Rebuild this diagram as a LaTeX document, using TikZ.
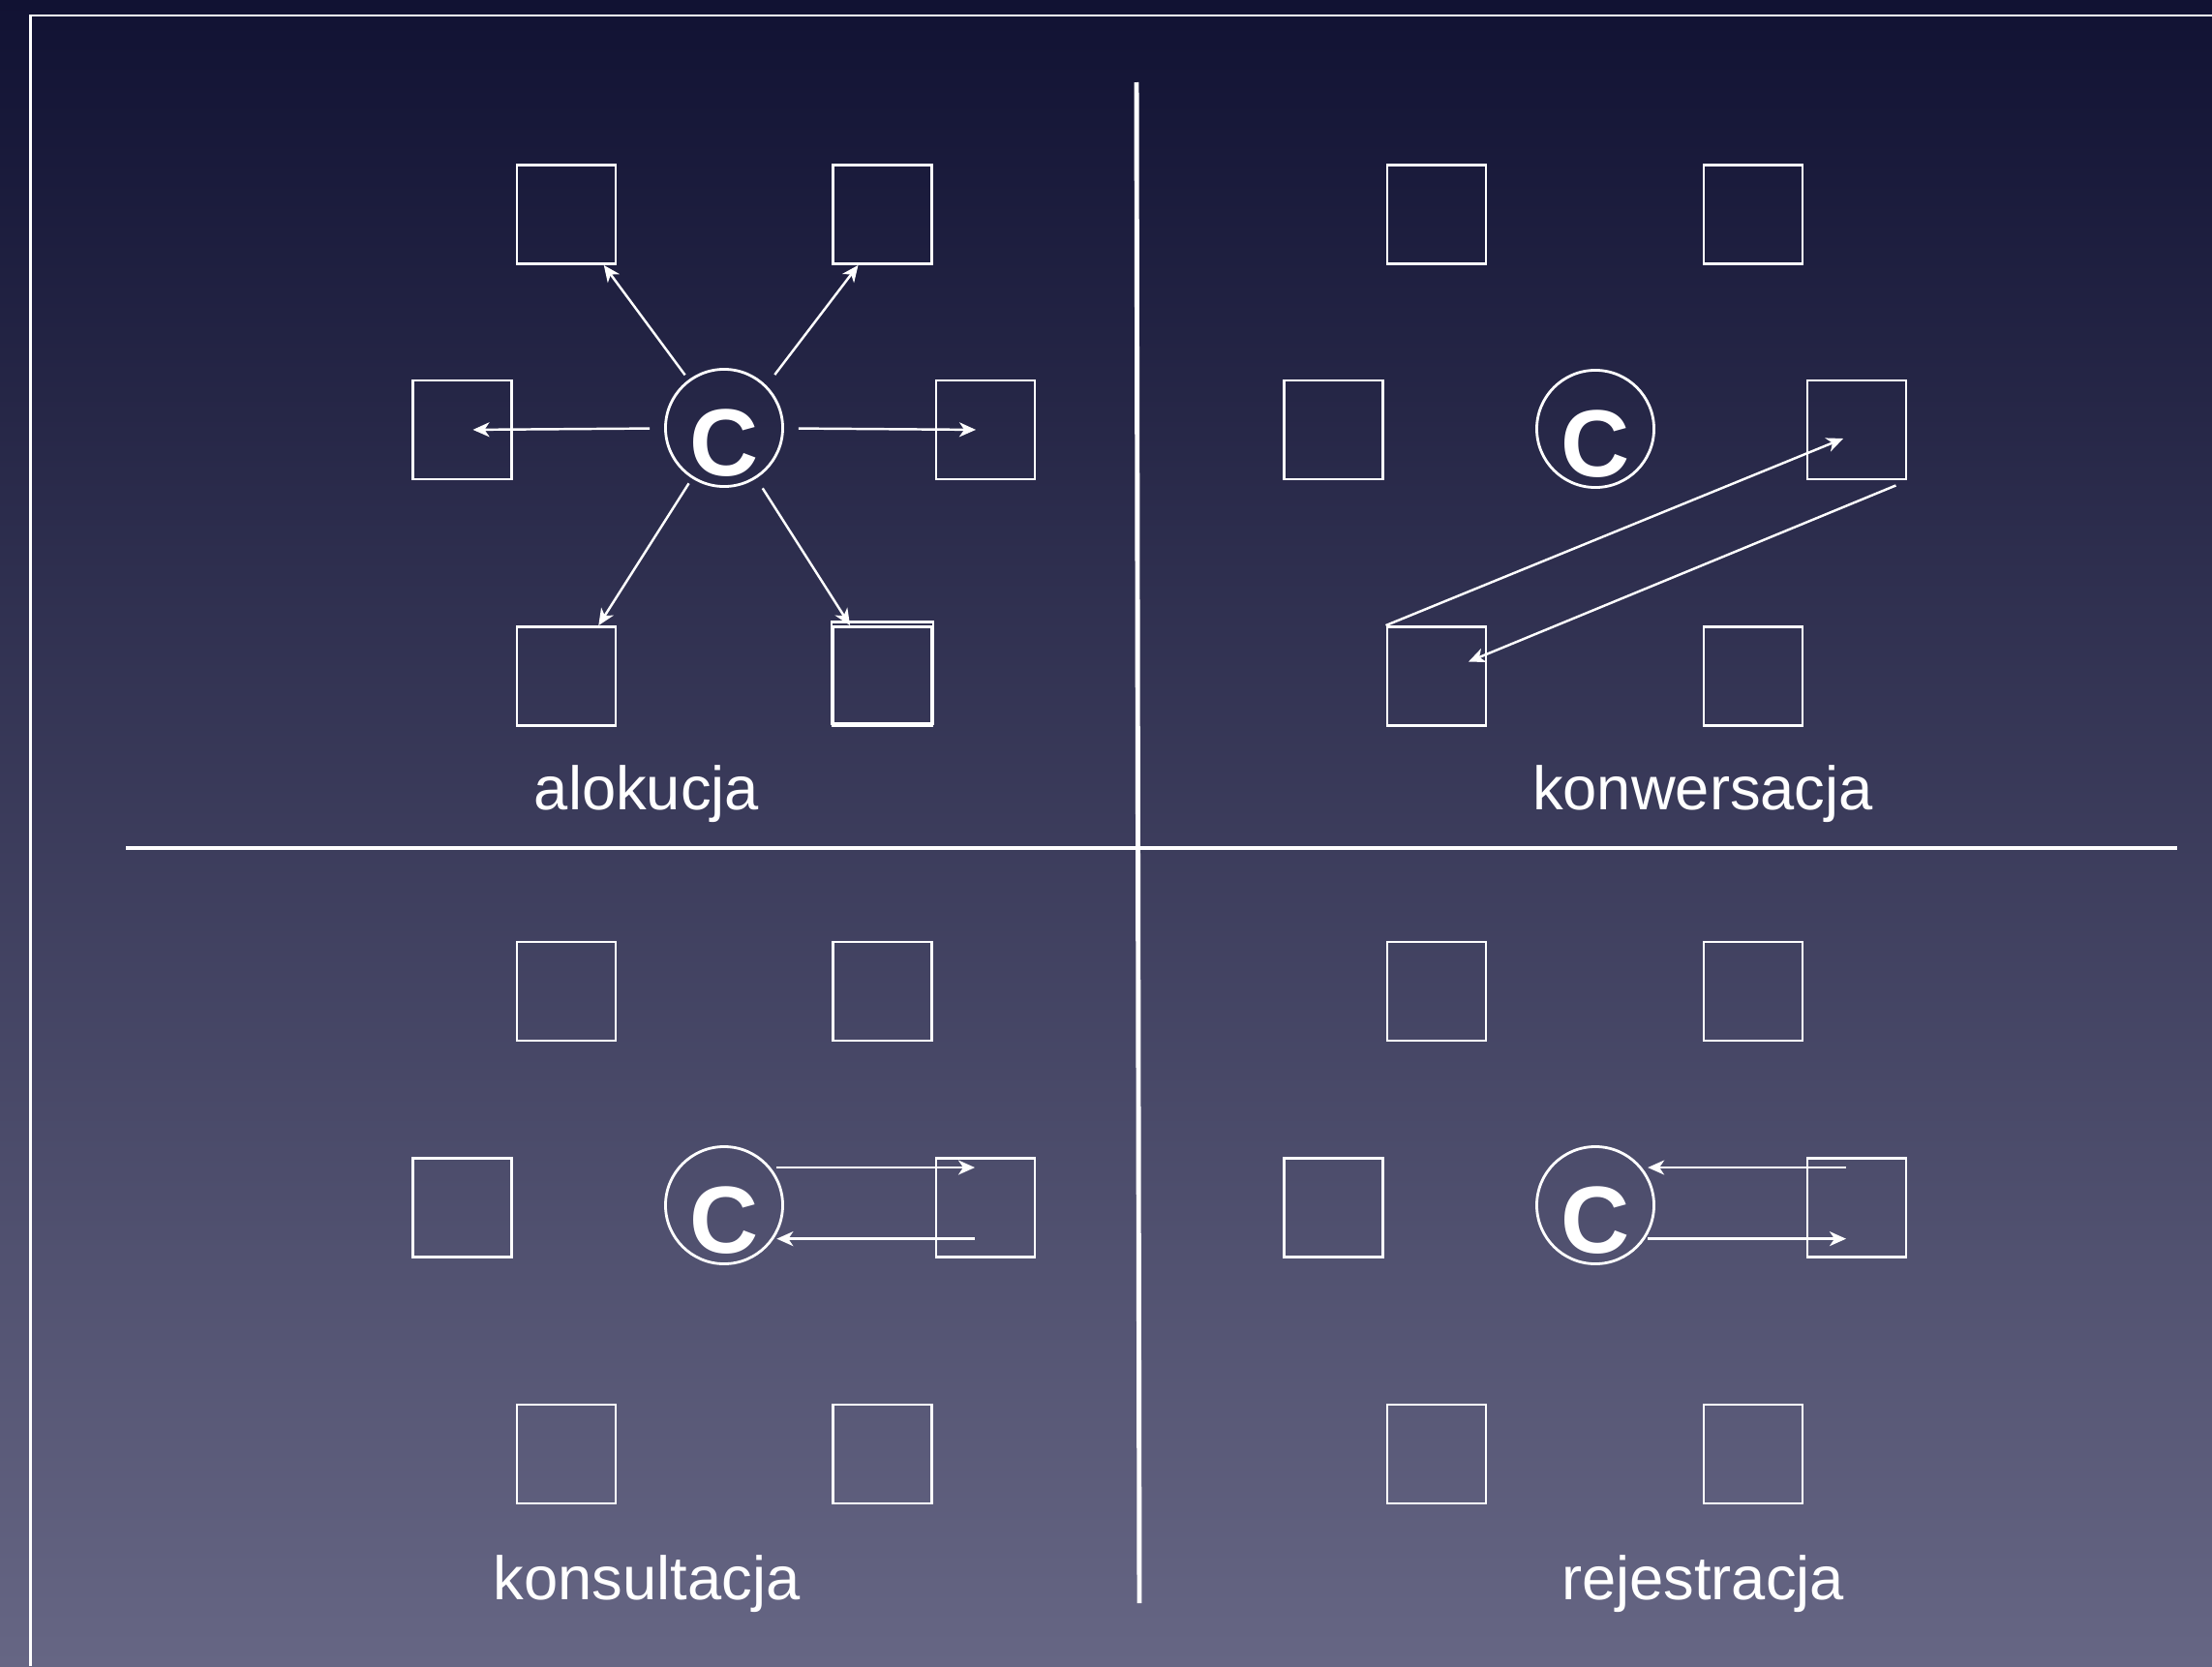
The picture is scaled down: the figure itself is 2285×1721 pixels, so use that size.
\documentclass[tikz,border=0pt]{standalone}
\usepackage{fontspec}
\setmainfont{Liberation Sans}
\usetikzlibrary{arrows.meta}
\definecolor{bgtop}{HTML}{111233}
\definecolor{bgbottom}{HTML}{666684}
\tikzset{
  box/.style={draw=white, line width=0.8pt, minimum size=10.2mm, inner sep=0pt},
  ctr/.style={circle, draw=white, line width=0.8pt, minimum size=12.1mm, inner sep=-0.1mm,
    text=white, font=\bfseries\fontsize{28}{28}\selectfont, text height=9.96mm, text depth=0pt},
  arr/.style={draw=white, line width=0.7pt, -{Stealth[length=1.7mm,width=1.5mm,inset=0.5mm]}},
  caption/.style={text=white, font=\fontsize{18}{18}\selectfont, anchor=base},
  divider/.style={draw=white, line width=1.4pt}
}
\begin{document}
\begin{tikzpicture}[x=0.01cm, y=-0.01cm]
      \useasboundingbox (0,0) rectangle (2285,1721);
      \shade[top color=bgtop, bottom color=bgbottom] (0,0) rectangle (2285,1721);
      \draw[white, line width=0.8pt] (31.5,1721) -- (31.5,16) -- (2285,16);
      \draw[divider] (1174,85) -- (1177,1656);
      \draw[divider] (130,876) -- (2249,876);
      \path
        (748,442) node[ctr] (ca){C}
        (585,221.5) node[box] (a1){}
        (911.5,221.5) node[box] (a2){}
        (477.5,444) node[box] (a3){}
        (1018,444) node[box] (a4){}
        (585,698.5) node[box] (a5){}
        (911.5,698.5) node[box] (a6){}
        (668,836) node[caption] (la){alokucja};
      \path
        (1648,443) node[ctr] (ck){C}
        (1484,221.5) node[box] (k1){}
        (1811,221.5) node[box] (k2){}
        (1377.5,444) node[box] (k3){}
        (1918,444) node[box] (k4){}
        (1484,698.5) node[box] (k5){}
        (1811,698.5) node[box] (k6){}
        (1759,836) node[caption] (lk){konwersacja};
      \path
        (748,1245) node[ctr] (cs){C}
        (585,1024) node[box] (s1){}
        (911.5,1024) node[box] (s2){}
        (477.5,1247.5) node[box] (s3){}
        (1018,1247.5) node[box] (s4){}
        (585,1502) node[box] (s5){}
        (911.5,1502) node[box] (s6){}
        (668,1652) node[caption] (ls){konsultacja};
      \path
        (1648,1245) node[ctr] (cr){C}
        (1484,1024) node[box] (r1){}
        (1811,1024) node[box] (r2){}
        (1377.5,1247.5) node[box] (r3){}
        (1918,1247.5) node[box] (r4){}
        (1484,1502) node[box] (r5){}
        (1811,1502) node[box] (r6){}
        (1759,1652) node[caption] (lr){rejestracja};
      \draw[white, line width=0.8pt] ([yshift=0.35mm]a6.north west) rectangle ([yshift=0.35mm]a6.south east);
      \begin{scope}[arr]
        \draw[shorten <=0.6mm] (ca) to (a1);
        \draw[shorten <=1.4mm] (ca.45) to ([xshift=-2.5mm]a2.south);
        \draw[shorten <=1.5mm, shorten >=1.1mm] (ca) to (a3.center);
        \draw[shorten <=1.5mm, shorten >=1mm] (ca) to (a4.center);
        \draw[shorten <=0.6mm] (ca) to (a5);
        \draw[shorten <=1.2mm] (ca) to (a6);
        \draw (k5.north west) to ([shift={(-14,9)}]k4.center);
        \draw ([shift={(-12,5)}]k4.south east) to ([shift={(33,-15)}]k5.center);
        \draw[shorten <=0.6mm, shorten >=1.1mm] (cs.39) to (cs.39 -| s4.center);
        \draw[shorten <=1.1mm, shorten >=0.3mm] (cs.-34 -| s4.center) to (cs.-34);
        \draw[shorten <=1.1mm, shorten >=0.6mm] (cr.39 -| r4.center) to (cr.39);
        \draw[shorten <=0.3mm, shorten >=1.1mm] (cr.-34) to (cr.-34 -| r4.center);
      \end{scope}
    \end{tikzpicture}
\end{document}
